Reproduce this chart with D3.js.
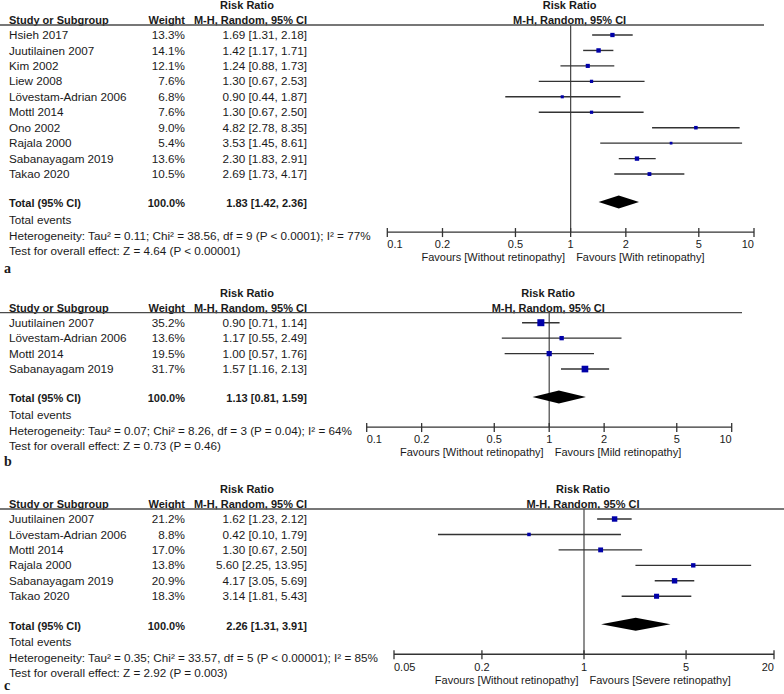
<!DOCTYPE html>
<html><head><meta charset="utf-8">
<script src="https://cdn.jsdelivr.net/npm/d3@7"></script>
<style>
body{margin:0;background:#fff;}
svg text{font-family:Arial,"Liberation Sans",sans-serif;font-size:11px;fill:#1a1a1a;}
svg text.tab{font-size:11.7px;}
</style></head>
<body><svg id="chart" width="784" height="694"></svg>
<script>
// ---------- Panel a ----------
const studiesA = ["Hsieh 2017","Juutilainen 2007","Kim 2002","Liew 2008","Lövestam-Adrian 2006","Mottl 2014","Ono 2002","Rajala 2000","Sabanayagam 2019","Takao 2020"];
const weightsA = [13.3,14.1,12.1,7.6,6.8,7.6,9.0,5.4,13.6,10.5];
const rrA = [1.69,1.42,1.24,1.30,0.90,1.30,4.82,3.53,2.30,2.69];
const lowerA = [1.31,1.17,0.88,0.67,0.44,0.67,2.78,1.45,1.83,1.73];
const upperA = [2.18,1.71,1.73,2.53,1.87,2.50,8.35,8.61,2.91,4.17];
const totalA = [1.83,1.42,2.36];
const hetA = "Heterogeneity: Tau² = 0.11; Chi² = 38.56, df = 9 (P < 0.0001); I² = 77%";
const testA = "Test for overall effect: Z = 4.64 (P < 0.00001)";
const ticksA = [0.1,0.2,0.5,1,2,5,10];
const favoursA = ["Favours [Without retinopathy]","Favours [With retinopathy]"];

// ---------- Panel b ----------
const studiesB = ["Juutilainen 2007","Lövestam-Adrian 2006","Mottl 2014","Sabanayagam 2019"];
const weightsB = [35.2,13.6,19.5,31.7];
const rrB = [0.90,1.17,1.00,1.57];
const lowerB = [0.71,0.55,0.57,1.16];
const upperB = [1.14,2.49,1.76,2.13];
const totalB = [1.13,0.81,1.59];
const hetB = "Heterogeneity: Tau² = 0.07; Chi² = 8.26, df = 3 (P = 0.04); I² = 64%";
const testB = "Test for overall effect: Z = 0.73 (P = 0.46)";
const ticksB = [0.1,0.2,0.5,1,2,5,10];
const favoursB = ["Favours [Without retinopathy]","Favours [Mild retinopathy]"];

// ---------- Panel c ----------
const studiesC = ["Juutilainen 2007","Lövestam-Adrian 2006","Mottl 2014","Rajala 2000","Sabanayagam 2019","Takao 2020"];
const weightsC = [21.2,8.8,17.0,13.8,20.9,18.3];
const rrC = [1.62,0.42,1.30,5.60,4.17,3.14];
const lowerC = [1.23,0.10,0.67,2.25,3.05,1.81];
const upperC = [2.12,1.79,2.50,13.95,5.69,5.43];
const totalC = [2.26,1.31,3.91];
const hetC = "Heterogeneity: Tau² = 0.35; Chi² = 33.57, df = 5 (P < 0.00001); I² = 85%";
const testC = "Test for overall effect: Z = 2.92 (P = 0.003)";
const ticksC = [0.05,0.2,1,5,20];
const favoursC = ["Favours [Without retinopathy]","Favours [Severe retinopathy]"];

const panelLabels = ["a","b","c"];

const svg = d3.select("#chart");
const fmt = d3.format(".2f");

function drawPanel(p){
  const g = svg.append("g");
  const hl = p.hl;
  const rowH = 15.45;
  const firstY = hl + 10;
  const rowY = i => firstY + i*rowH;
  const lastY = rowY(p.studies.length-1);
  const totY = lastY + 29.5;
  const axisY = totY + 28.5;
  const x = d3.scaleLog().domain([p.ticks[0], p.ticks[p.ticks.length-1]]).range(p.range);
  const x1 = x(1);

  // headers
  g.append("text").attr("x",247).attr("y",hl-20).attr("dy","0.35em").attr("text-anchor","middle").attr("font-weight","bold").text("Risk Ratio");
  g.append("text").attr("x",9).attr("y",hl-5).attr("dy","0.35em").attr("font-weight","bold").text("Study or Subgroup");
  g.append("text").attr("x",185).attr("y",hl-5).attr("dy","0.35em").attr("text-anchor","end").attr("font-weight","bold").text("Weight");
  g.append("text").attr("x",307).attr("y",hl-5).attr("dy","0.35em").attr("text-anchor","end").attr("font-weight","bold").text("M-H, Random, 95% CI");
  g.append("text").attr("x",x1-1).attr("y",hl-20).attr("dy","0.35em").attr("text-anchor","middle").attr("font-weight","bold").text("Risk Ratio");
  g.append("text").attr("x",x1-1).attr("y",hl-5).attr("dy","0.35em").attr("text-anchor","middle").attr("font-weight","bold").text("M-H, Random, 95% CI");
  g.append("line").attr("x1",0).attr("x2",p.lineEnd).attr("y1",hl).attr("y2",hl).attr("stroke","#4a4a4a").attr("stroke-width",1.3);

  // vertical line of no effect
  g.append("line").attr("x1",x1).attr("x2",x1).attr("y1",hl).attr("y2",axisY).attr("stroke","#444").attr("stroke-width",1.2);

  // rows
  p.studies.forEach((s,i)=>{
    const y = rowY(i);
    g.append("text").attr("class","tab").attr("x",9).attr("y",y).attr("dy","0.35em").text(s);
    g.append("text").attr("class","tab").attr("x",185).attr("y",y).attr("dy","0.35em").attr("text-anchor","end").text(p.weights[i].toFixed(1)+"%");
    g.append("text").attr("class","tab").attr("x",307).attr("y",y).attr("dy","0.35em").attr("text-anchor","end")
      .text(fmt(p.rr[i])+" ["+fmt(p.lower[i])+", "+fmt(p.upper[i])+"]");
    g.append("line").attr("x1",x(p.lower[i])).attr("x2",x(p.upper[i])).attr("y1",y).attr("y2",y)
      .attr("stroke","#333").attr("stroke-width",1.4);
    const side = 1.18*Math.sqrt(p.weights[i]);
    g.append("rect").attr("x",x(p.rr[i])-side/2).attr("y",y-side/2).attr("width",side).attr("height",side).attr("fill","#0000a8");
  });

  // totals
  g.append("text").attr("x",9).attr("y",totY).attr("dy","0.35em").attr("font-weight","bold").text("Total (95% CI)");
  g.append("text").attr("x",185).attr("y",totY).attr("dy","0.35em").attr("text-anchor","end").attr("font-weight","bold").text("100.0%");
  g.append("text").attr("x",307).attr("y",totY).attr("dy","0.35em").attr("text-anchor","end").attr("font-weight","bold")
    .text(fmt(p.total[0])+" ["+fmt(p.total[1])+", "+fmt(p.total[2])+"]");
  const dy = totY-1.5, hh = 6.5;
  g.append("path").attr("d",`M${x(p.total[1])},${dy} L${x(p.total[0])},${dy-hh} L${x(p.total[2])},${dy} L${x(p.total[0])},${dy+hh} Z`).attr("fill","#000");

  g.append("text").attr("class","tab").attr("x",9).attr("y",totY+16).attr("dy","0.35em").text("Total events");
  g.append("text").attr("class","tab").attr("x",9).attr("y",totY+32).attr("dy","0.35em").text(p.het);
  g.append("text").attr("class","tab").attr("x",9).attr("y",totY+47.5).attr("dy","0.35em").text(p.test);
  g.append("text").attr("x",4).attr("y",p.letterY).attr("dy","0.35em").attr("font-weight","bold")
    .style("font-family","'Liberation Serif','Times New Roman',serif").style("font-size","14px").text(p.label);

  // axis
  g.append("line").attr("x1",p.range[0]).attr("x2",p.range[1]).attr("y1",axisY).attr("y2",axisY).attr("stroke","#333").attr("stroke-width",1.3);
  p.ticks.forEach((t,i)=>{
    g.append("line").attr("x1",x(t)).attr("x2",x(t)).attr("y1",axisY-4).attr("y2",axisY+5).attr("stroke","#333").attr("stroke-width",1.3);
    const anchor = i===0 ? "start" : (i===p.ticks.length-1 ? "end" : "middle");
    g.append("text").attr("x",x(t)).attr("y",axisY+12.5).attr("dy","0.35em").attr("text-anchor",anchor).text(String(t));
  });
  g.append("text").attr("x",x1-5.5).attr("y",axisY+25.5).attr("dy","0.35em").attr("text-anchor","end").text(p.favours[0]);
  g.append("text").attr("x",x1+5.5).attr("y",axisY+25.5).attr("dy","0.35em").attr("text-anchor","start").text(p.favours[1]);
}

drawPanel({hl:25, range:[387.3,754], lineEnd:764, studies:studiesA, weights:weightsA, rr:rrA, lower:lowerA, upper:upperA, total:totalA, het:hetA, test:testA, ticks:ticksA, favours:favoursA, label:panelLabels[0], letterY:268.5});
drawPanel({hl:312.7, range:[366.7,731.7], lineEnd:742, studies:studiesB, weights:weightsB, rr:rrB, lower:lowerB, upper:upperB, total:totalB, het:hetB, test:testB, ticks:ticksB, favours:favoursB, label:panelLabels[1], letterY:461});
drawPanel({hl:509, range:[394,774], lineEnd:784, studies:studiesC, weights:weightsC, rr:rrC, lower:lowerC, upper:upperC, total:totalC, het:hetC, test:testC, ticks:ticksC, favours:favoursC, label:panelLabels[2], letterY:685});
</script></body></html>
